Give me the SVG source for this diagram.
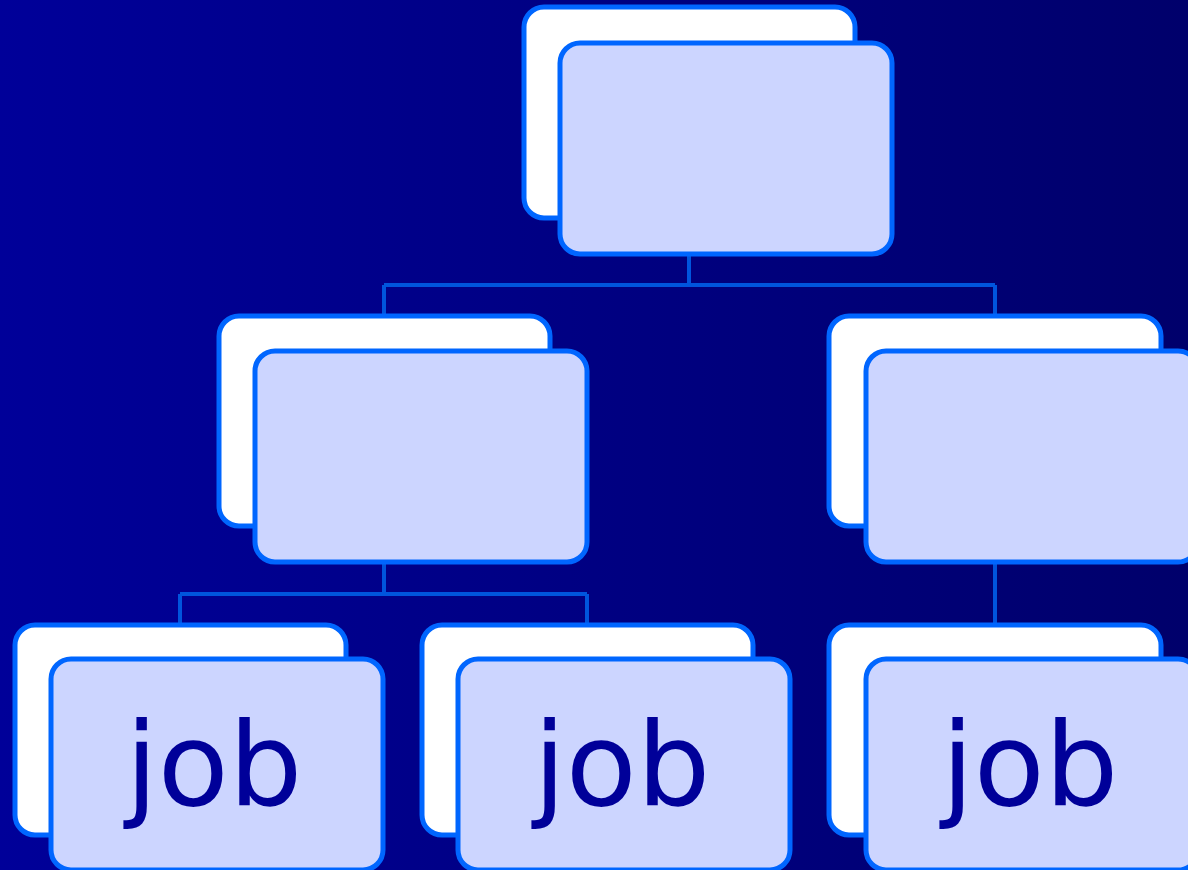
<svg xmlns="http://www.w3.org/2000/svg" width="1188" height="870" viewBox="0 0 1188 870">
<defs>
<linearGradient id="bg" x1="0" y1="0" x2="1" y2="0">
<stop offset="0" stop-color="#000099"/>
<stop offset="1" stop-color="#00006b"/>
</linearGradient>
<style>
.back{fill:#ffffff;stroke:#0066ff;stroke-width:5}
.front{fill:#ccd5ff;stroke:#0066ff;stroke-width:5}
.conn{fill:none;stroke:#0055dd;stroke-width:4}
.lbl{font-family:"DejaVu Sans",Verdana,sans-serif;font-size:116px;fill:#000099;text-anchor:middle}
</style>
</defs>
<rect width="1188" height="870" fill="url(#bg)"/>
<g id="connectors">
<path class="conn" d="M689 254V285M384 285H995M384 285V316M995 285V316"/>
<path class="conn" d="M384 562V594M180 594H587M180 594V625M587 594V625"/>
<path class="conn" d="M995 562V625"/>
</g>
<g id="top">
<rect class="back" x="524" y="7" width="331" height="211" rx="20"/>
<rect class="front" x="560" y="43" width="332" height="211" rx="20"/>
</g>
<g id="mid-left">
<rect class="back" x="219" y="316" width="331" height="210" rx="20"/>
<rect class="front" x="255" y="351" width="332" height="211" rx="20"/>
</g>
<g id="mid-right">
<rect class="back" x="829" y="316" width="332" height="210" rx="20"/>
<rect class="front" x="866" y="351" width="332" height="211" rx="20"/>
</g>
<g id="job1">
<rect class="back" x="15" y="625" width="331" height="210" rx="20"/>
<rect class="front" x="51" y="659" width="332" height="211" rx="20"/>
<text class="lbl" x="214" y="805">job</text>
</g>
<g id="job2">
<rect class="back" x="422" y="625" width="331" height="210" rx="20"/>
<rect class="front" x="458" y="659" width="332" height="211" rx="20"/>
<text class="lbl" x="622" y="805">job</text>
</g>
<g id="job3">
<rect class="back" x="829" y="625" width="332" height="210" rx="20"/>
<rect class="front" x="866" y="659" width="332" height="211" rx="20"/>
<text class="lbl" x="1030" y="805">job</text>
</g>
</svg>
